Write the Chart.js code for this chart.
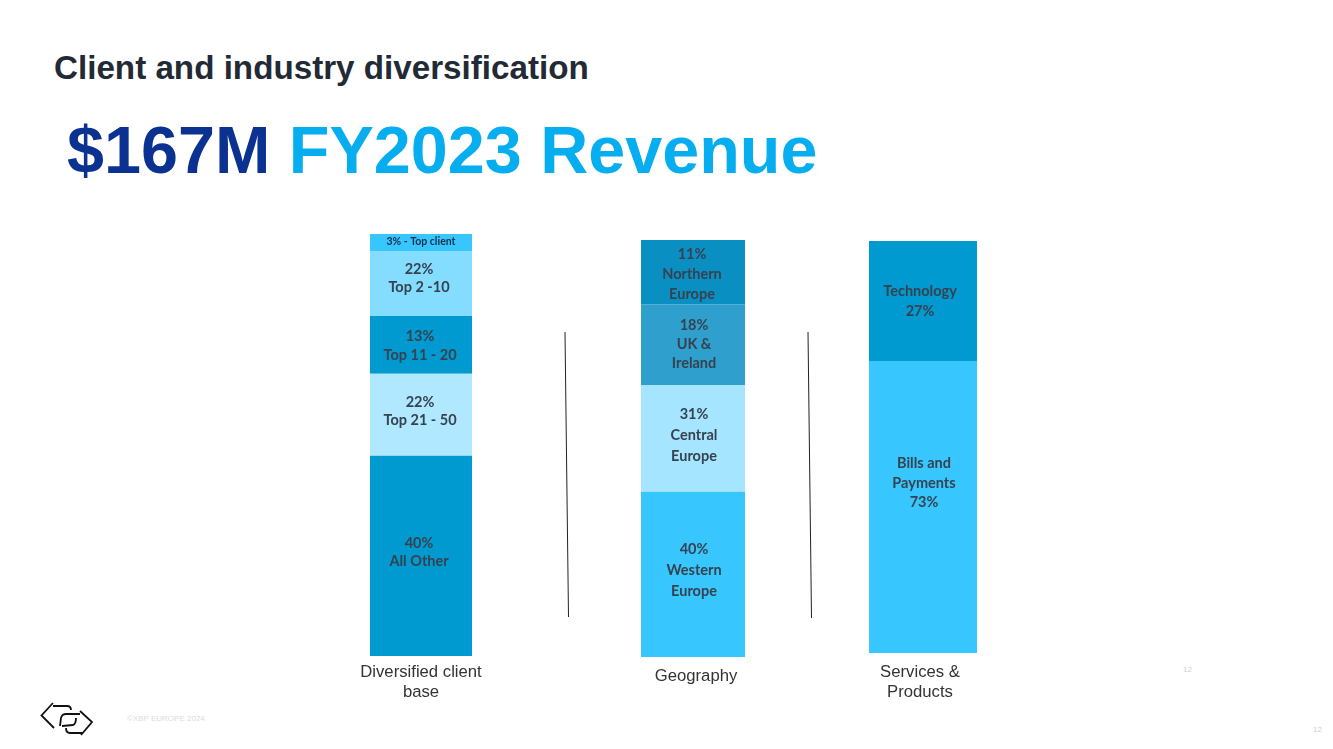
<!DOCTYPE html>
<html><head><meta charset="utf-8">
<script src="https://cdn.jsdelivr.net/npm/chart.js@4/dist/chart.umd.min.js"></script>
<style>
html,body{margin:0;padding:0;background:#fff;width:1333px;height:749px;overflow:hidden;font-family:"Liberation Sans",Arial,sans-serif}
canvas,svg,.t{position:absolute}
.t{white-space:nowrap;line-height:1}
</style></head><body>
<div class="t" style="left:54px;top:51px;font-size:33.2px;font-weight:700;color:#222a35">Client and industry diversification</div>
<div class="t" style="left:67px;top:117px;font-size:66.5px;font-weight:700;color:#06aeef"><span style="color:#0b3291">$167M</span> FY2023 Revenue</div>
<svg width="1333" height="749" style="left:0;top:0">
<line x1="565" y1="332" x2="568.5" y2="617" stroke="#222" stroke-width="1"/>
<line x1="808" y1="332" x2="811.5" y2="618" stroke="#222" stroke-width="1"/>
<g fill="none" stroke="#111" stroke-width="1.8">
<path d="M54 728 L41.5 715.5 L53 703 M53 706 L67 706 Q71 706 71 710"/>
<path d="M60 726 L61 718 Q62 714 66 714 L80 714 M80 711 L92 722 L81 735"/>
<path d="M62 726 L73 725 Q76 724 76 718 M66 728 Q66 733 70 733 L83 733"/>
</g></svg>
<div class="t" style="left:127px;top:715px;font-size:8px;color:#dcdcdc">©XBP EUROPE 2024</div>
<div class="t" style="left:1183px;top:666px;font-size:8px;color:#cfcfcf">12</div>
<div class="t" style="left:1313px;top:726px;font-size:8px;color:#cfcfcf">12</div>
<canvas id="c1" width="200" height="500" style="width:200px;height:500px"></canvas>
<canvas id="c2" width="200" height="500" style="width:200px;height:500px"></canvas>
<canvas id="c3" width="200" height="500" style="width:200px;height:500px"></canvas>
<script>
// Segment sizes as drawn (share of bar height, bottom to top)
const clientValues = [47.4, 19.4, 13.7, 15.4, 4.0];
const clientLabels = [["40%","All Other"],["22%","Top 21 - 50"],["13%","Top 11 - 20"],["22%","Top 2 -10"],["3% - Top client"]];
const clientColors = ["#0099d0","#afe8ff","#0099d0","#84dcff","#38c6ff"];
const geoValues = [39.6, 25.6, 19.4, 15.4];
const geoLabels = [["40%","Western","Europe"],["31%","Central","Europe"],["18%","UK &","Ireland"],["11%","Northern","Europe"]];
const geoColors = ["#38c6ff","#a6e5ff","#2f9fcd","#0a8fc3"];
const serviceValues = [70.9, 29.1];
const serviceLabels = [["Bills and","Payments","73%"],["Technology","27%"]];
const serviceColors = ["#38c6ff","#0099d0"];
const categories = [["Diversified client","base"],"Geography",["Services &","Products"]];

const labelPlugin = {
  id:'segLabels',
  afterDatasetsDraw(chart){
    const {ctx}=chart, o=chart.options.plugins.segLabels;
    chart.data.datasets.forEach((ds,i)=>{
      const bar=chart.getDatasetMeta(i).data[0];
      const lines=o.labels[i], gap=o.gaps[i], cy=(bar.y+bar.base)/2+o.shifts[i], cx=bar.x+o.dx[i];
      ctx.save();
      ctx.textAlign='center';ctx.textBaseline='middle';
      lines.forEach((ln,k)=>{
        const small=o.small===i;
        ctx.font=small?'700 10.5px Lato':'700 14.5px Lato';
        ctx.fillStyle=small?'#12304a':'#36424f';
        ctx.fillText(ln,cx,cy+(k-(lines.length-1)/2)*gap);
      });
      ctx.restore();
    });
  }
};

function mk(id,left,top,padTop,areaH,barW,v,c,l,cat,off,seg){
  const cv=document.getElementById(id);
  cv.style.left=left+'px';cv.style.top=top+'px';
  new Chart(cv,{
    type:'bar',
    data:{labels:[cat],datasets:v.map((x,i)=>({data:[x],backgroundColor:c[i],borderWidth:0,barPercentage:barW/200,categoryPercentage:1}))},
    options:{
      responsive:false,animation:false,devicePixelRatio:1,
      layout:{padding:{top:padTop,left:0,right:0,bottom:0}},
      plugins:{legend:{display:false},tooltip:{enabled:false},segLabels:Object.assign({labels:l},seg)},
      scales:{
        x:{stacked:true,grid:{display:false},border:{display:false},
           ticks:{color:'#333',font:{family:'Liberation Sans',size:16.7,lineHeight:1.2},padding:seg.tickPad,labelOffset:off,maxRotation:0,autoSkip:false},
           afterFit(s){s.height=500-padTop-areaH;}},
        y:{stacked:true,display:false,min:0,max:v.reduce((a,b)=>a+b,0)}
      }
    },
    plugins:[labelPlugin]
  });
}
mk('c1',321,220,14,422,102,clientValues,clientColors,clientLabels,categories[0],0,
  {gaps:[18,18,19,18,0],shifts:[-4,-3,1,-5.5,-1],dx:[-2,-1,-1,-2,0],small:4,tickPad:-2});
mk('c2',593,220,20,417,104,geoValues,geoColors,geoLabels,categories[1],3,
  {gaps:[21,21,19,20],shifts:[-4,-3,0,2],dx:[1,1,1,-1],small:-1,tickPad:1});
mk('c3',823,220,21,412,108,serviceValues,serviceColors,serviceLabels,categories[2],-3,
  {gaps:[19.5,20],shifts:[-24,0],dx:[1,-3],small:-1,tickPad:1});
</script>
</body></html>
